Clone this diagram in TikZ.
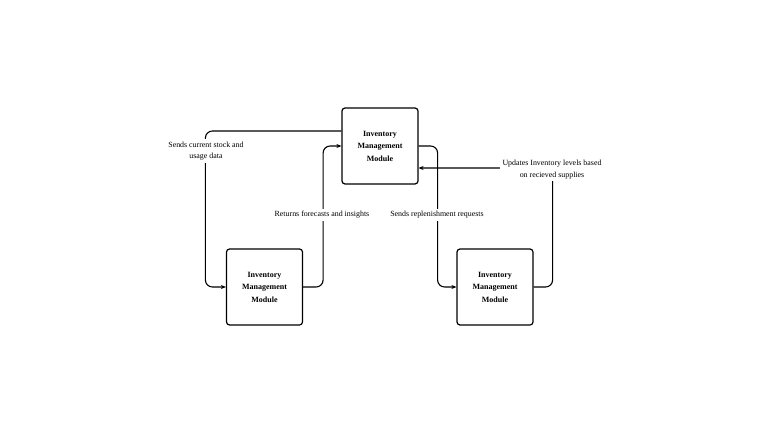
\documentclass[tikz,border=0pt]{standalone}
\usepackage{fontspec}
\setmainfont{Liberation Serif}
\usetikzlibrary{arrows.meta}
\begin{document}
\begin{tikzpicture}[x=1pt,y=-1pt,
  box/.style={draw, line width=1.2pt, rounded corners=3pt, minimum width=76pt, minimum height=76pt, align=center, font=\fontsize{8}{12.5}\selectfont\bfseries, inner sep=1pt},
  flow/.style={draw, line width=1.1pt, rounded corners=7pt, -{Stealth[length=5pt,width=4pt]}},
  lbl/.style={fill=white, align=center, font=\fontsize{7.9}{11.5}\selectfont, inner sep=2.5pt}]
\useasboundingbox (0,0) rectangle (768,433);
\node[box] (top) at (380,146) {Inventory\\Management\\Module};
\node[box] (bl) at (264.5,287) {Inventory\\Management\\Module};
\node[box] (br) at (495,287) {Inventory\\Management\\Module};
\draw[flow] ([yshift=15pt]top.west) -- ++(-136,0) |- (bl.west);
\draw[flow] (bl.east) -- ++(20,0) |- (top.west);
\draw[flow] (top.east) -- ++(19,0) |- (br.west);
\draw[flow] (br.east) -- ++(19,0) |- ([yshift=-22pt]top.east);
\node[lbl] (l1) at (206,151) {Sends current stock and\\usage data};
\node[lbl] (l2) at (322,215) {Returns forecasts and insights};
\node[lbl] (l3) at (437,215) {Sends replenishment requests};
\node[lbl] (l4) at (552,169.5) {Updates Inventory levels based\\on recieved supplies};
\end{tikzpicture}
\end{document}
